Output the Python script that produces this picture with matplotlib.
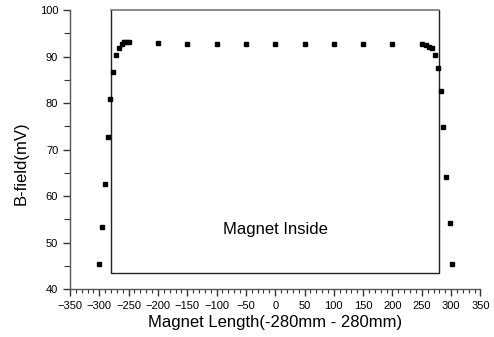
import matplotlib.pyplot as plt
from matplotlib.ticker import MultipleLocator

# measured B-field along the magnet
pos = [-300, -295, -290, -286, -281, -276, -271, -266, -262, -258, -254, -250,
       -200, -150, -100, -50, 0, 50, 100, 150, 200,
       251, 257, 262, 267, 272, 277, 282, 287, 292, 298, 302]
bfield = [45.4, 53.4, 62.6, 72.7, 80.8, 86.7, 90.3, 91.9, 92.7, 93.1, 93.2, 93.2,
          93.0, 92.7, 92.7, 92.7, 92.7, 92.7, 92.7, 92.7, 92.8,
          92.8, 92.5, 92.1, 91.9, 90.3, 87.5, 82.7, 74.8, 64.2, 54.2, 45.4]

# magnet outline
magnet_x = [-280, -280, 280, 280]
magnet_y = [100, 43.6, 43.6, 100]

plt.rcParams['font.family'] = ['Liberation Sans', 'DejaVu Sans']

fig = plt.figure(figsize=(4.94, 3.37), dpi=100)
ax = fig.add_axes([0.1417, 0.1415, 0.8308, 0.8288])

ax.plot(magnet_x, magnet_y, color='#222222', lw=1.0)
ax.plot([-280, 280], [100, 100], color='#777777', lw=1.2, clip_on=False)
ax.plot(pos, bfield, 's', color='black', ms=3.4, mec='black')

ax.text(0, 52.8, 'Magnet Inside', ha='center', va='center', fontsize=12)

ax.set_xlim(-350, 350)
ax.set_ylim(40, 100)
ax.xaxis.set_major_locator(MultipleLocator(50))
ax.xaxis.set_minor_locator(MultipleLocator(10))
ax.yaxis.set_major_locator(MultipleLocator(10))
ax.yaxis.set_minor_locator(MultipleLocator(5))

for s in ['top', 'right']:
    ax.spines[s].set_visible(False)
for s in ['left', 'bottom']:
    ax.spines[s].set_color('#555555')
    ax.spines[s].set_linewidth(1.0)

ax.tick_params(which='major', direction='out', length=5, width=1, color='#333333', labelsize=8)
ax.tick_params(which='minor', direction='out', length=3, width=0.8, color='#333333')
ax.tick_params(axis='y', which='minor', length=4)

ax.set_xlabel('Magnet Length(-280mm - 280mm)', fontsize=12, labelpad=3)
ax.set_ylabel('B-field(mV)', fontsize=12)
ax.yaxis.set_label_coords(-0.1, 0.45)

fig.savefig('out.png', dpi=100)
